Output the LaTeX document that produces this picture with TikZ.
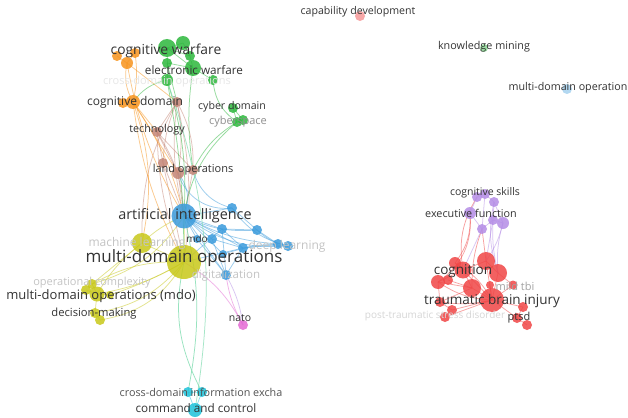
\documentclass[tikz,border=0pt]{standalone}
\usepackage{fontspec}
\setmainfont{Open Sans}
\definecolor{cY}{HTML}{C8C819}
\definecolor{cB}{HTML}{3A9BDC}
\definecolor{cG}{HTML}{2DB83D}
\definecolor{cO}{HTML}{F7941D}
\definecolor{cR}{HTML}{F04646}
\definecolor{cP}{HTML}{B48CE6}
\definecolor{cC}{HTML}{1EC3DA}
\definecolor{cBr}{HTML}{C48576}
\definecolor{cPk}{HTML}{E469D4}
\definecolor{cGc}{HTML}{7FDCB0}
\definecolor{lab}{HTML}{333333}
\definecolor{fad}{HTML}{C4C4C4}
\pgfdeclarelayer{backfill}
\pgfdeclarelayer{edges}
\pgfsetlayers{backfill,edges,main}
\begin{document}
\begin{tikzpicture}[x=1pt,y=-1pt,
  nd/.style={circle, inner sep=0pt, draw=none, fill opacity=0.85},
  ed/.style={line width=0.75pt, draw opacity=0.5},
  lb/.style={text=lab, inner sep=0pt},
  fl/.style={text=fad, inner sep=0pt}]
\begin{pgfonlayer}{backfill}
\fill[white] (0,0) rectangle (628,417);
\end{pgfonlayer}
\useasboundingbox (0,0) rectangle (628,417);
% ---------- nodes ----------
% yellow
\path
 (184,262) node[nd,fill=cY,minimum size=34pt] (y1) {}
 (142,243) node[nd,fill=cY,minimum size=20pt] (y2) {}
 (92,284) node[nd,fill=cY,minimum size=10pt] (y3) {}
 (86,290) node[nd,fill=cY,minimum size=10pt] (y4) {}
 (97,294) node[nd,fill=cY,minimum size=15pt] (y5) {}
 (110,295) node[nd,fill=cY,minimum size=8pt] (y6) {}
 (95,313) node[nd,fill=cY,minimum size=10pt] (y7) {}
 (100,320) node[nd,fill=cY,minimum size=10pt] (y8) {};
% blue
\path
 (184,216) node[nd,fill=cB,minimum size=25pt] (b1) {}
 (232,208) node[nd,fill=cB,minimum size=10pt] (b2) {}
 (222,229) node[nd,fill=cB,minimum size=10pt] (b3) {}
 (212,239) node[nd,fill=cB,minimum size=10pt] (b4) {}
 (197,239) node[nd,fill=cB,minimum size=8pt] (b5) {}
 (257,230) node[nd,fill=cB,minimum size=10pt] (b6) {}
 (243,248) node[nd,fill=cB,minimum size=10pt] (b7) {}
 (278,244) node[nd,fill=cB,minimum size=10pt] (b8) {}
 (288,246) node[nd,fill=cB,minimum size=10pt] (b9) {}
 (226,275) node[nd,fill=cB,minimum size=10pt] (b10) {}
 (223,254) node[nd,fill=cB,minimum size=8pt] (b11) {};
% pink, cyan
\path
 (243,325) node[nd,fill=cPk,minimum size=10pt] (p1) {}
 (188,392) node[nd,fill=cC,minimum size=10pt] (c1) {}
 (202,392) node[nd,fill=cC,minimum size=10pt] (c2) {}
 (195,410) node[nd,fill=cC,minimum size=14pt] (c3) {};
% brown
\path
 (177,102) node[nd,fill=cBr,minimum size=10pt] (r1) {}
 (157,132) node[nd,fill=cBr,minimum size=10pt] (r2) {}
 (163,163) node[nd,fill=cBr,minimum size=10pt] (r3) {}
 (178,173) node[nd,fill=cBr,minimum size=12pt] (r4) {}
 (193,170) node[nd,fill=cBr,minimum size=10pt] (r5) {};
% orange
\path
 (135,53) node[nd,fill=cO,minimum size=10pt] (o1) {}
 (117,56) node[nd,fill=cO,minimum size=10pt] (o2) {}
 (127,63) node[nd,fill=cO,minimum size=12pt] (o3) {}
 (133,102) node[nd,fill=cO,minimum size=14pt] (o4) {}
 (123,103) node[nd,fill=cO,minimum size=10pt] (o5) {};
% green
\path
 (167,48) node[nd,fill=cG,minimum size=18pt] (g1) {}
 (183,43) node[nd,fill=cG,minimum size=14pt] (g2) {}
 (190,56) node[nd,fill=cG,minimum size=10pt] (g3) {}
 (167,63) node[nd,fill=cG,minimum size=10pt] (g4) {}
 (193,68) node[nd,fill=cG,minimum size=16pt] (g6) {}
 (167,80) node[nd,fill=cG,minimum size=12pt] (g5) {}
 (213,80) node[nd,fill=cG,minimum size=10pt] (g7) {}
 (233,108) node[nd,fill=cG,minimum size=10pt] (g8) {}
 (237,122) node[nd,fill=cG,minimum size=10pt] (g9) {}
 (243,120) node[nd,fill=cG,minimum size=10pt] (g10) {};
% red
\path
 (455,263) node[nd,fill=cR,minimum size=12pt] (e2) {}
 (463,270) node[nd,fill=cR,minimum size=17pt] (e1) {}
 (486,261) node[nd,fill=cR,minimum size=18pt] (e3) {}
 (498,273) node[nd,fill=cR,minimum size=18pt] (e4) {}
 (438,282) node[nd,fill=cR,minimum size=14pt] (e5) {}
 (448,280) node[nd,fill=cR,minimum size=10pt] (e6) {}
 (472,288) node[nd,fill=cR,minimum size=18pt] (e7) {}
 (490,285) node[nd,fill=cR,minimum size=8pt] (e9) {}
 (492,300) node[nd,fill=cR,minimum size=24pt] (e8) {}
 (513,285) node[nd,fill=cR,minimum size=9pt] (e10) {}
 (440,302) node[nd,fill=cR,minimum size=10pt] (e11) {}
 (452,310) node[nd,fill=cR,minimum size=10pt] (e12) {}
 (445,317) node[nd,fill=cR,minimum size=10pt] (e13) {}
 (523,307) node[nd,fill=cR,minimum size=10pt] (e14) {}
 (517,318) node[nd,fill=cR,minimum size=10pt] (e15) {}
 (527,325) node[nd,fill=cR,minimum size=10pt] (e16) {};
% purple
\path
 (477,197) node[nd,fill=cP,minimum size=10pt] (u1) {}
 (485,194) node[nd,fill=cP,minimum size=10pt] (u2) {}
 (494,202) node[nd,fill=cP,minimum size=10pt] (u3) {}
 (470,213) node[nd,fill=cP,minimum size=12pt] (u4) {}
 (493,220) node[nd,fill=cP,minimum size=10pt] (u5) {}
 (503,223) node[nd,fill=cP,minimum size=12pt] (u6) {}
 (482,229) node[nd,fill=cP,minimum size=10pt] (u7) {};
% isolated
\path
 (360,16) node[nd,fill=cR!55,minimum size=10pt] (i1) {}
 (484,48) node[nd,fill=cG!55,minimum size=8pt] (i2) {}
 (567,89) node[nd,fill=cB!45,minimum size=10pt] (i3) {};
% ---------- edges ----------
\begin{pgfonlayer}{edges}
% yellow
\foreach \a/\b/\bb in {y1/y2/0,y1/y3/-15,y1/y5/10,y1/y6/5,y1/y7/20,y1/y8/25,y2/y5/-10,y2/y3/0,y3/y5/0,y5/y7/0,y4/y5/0,y5/y6/0,y1/b1/0,y2/b1/10,y7/y8/0,y3/b1/-20}
  \draw[ed,cY] (\a.center) to[bend left=\bb] (\b.center);
% blue
\foreach \a/\b/\bb in {b1/b2/0,b1/b3/0,b1/b4/0,b1/b5/0,b1/b6/-15,b1/b7/0,b1/b8/-12,b1/b9/-20,b1/b10/0,b1/b11/0,b2/b6/0,b3/b6/0,b4/b7/0,b3/b7/0,b6/b8/0,b7/b8/0,b7/b9/10,b6/b9/-15,b4/b10/0,b5/b10/0,b3/b10/0,b7/b10/0,b11/b9/10,b1/r4/-30,b2/r5/30,y1/b3/0,y1/b7/0,b2/b9/-20,b2/r4/40}
  \draw[ed,cB] (\a.center) to[bend left=\bb] (\b.center);
% brown
\foreach \a/\b/\bb in {r1/r2/0,r1/r4/10,r2/r3/0,r2/r4/0,r1/b1/-10,r2/b1/15,r2/y1/-10,r3/y1/0,r4/b1/0,r5/b1/0,r1/y1/10,r3/b1/0,r1/r3/-10,r2/r5/0,r1/r5/15,r1/y2/-15}
  \draw[ed,cBr] (\a.center) to[bend left=\bb] (\b.center);
% orange
\foreach \a/\b/\bb in {o1/o3/0,o2/o3/0,o3/o4/-20,o1/o4/10,o4/o5/0,o4/r2/0,o4/b1/10,o4/y1/-10,o4/y2/15,o3/r1/0,o3/b1/-10,o4/r4/0}
  \draw[ed,cO] (\a.center) to[bend left=\bb] (\b.center);
% green
\foreach \a/\b/\bb in {g1/g2/0,g1/g3/0,g1/g4/0,g2/g3/0,g3/g6/0,g4/g5/0,g6/g7/0,g4/g6/0,g1/g6/0,g5/o4/-20,g5/b1/10,g7/g9/-25,g9/r5/-15,g9/b1/-20,g8/g9/0,g8/g10/0,g9/g10/0,g4/r1/0,g5/y1/5,g6/r5/-8}
  \draw[ed,cG] (\a.center) to[bend left=\bb] (\b.center);
% cyan / light green
\foreach \a/\b/\bb in {c1/c2/0,c1/c3/0,c2/c3/0}
  \draw[ed,cC] (\a.center) to[bend left=\bb] (\b.center);
\draw[ed,cGc,draw opacity=0.8] (y1.center) to[bend left=-20] (c2.center);
\draw[ed,cGc,draw opacity=0.8] (b1.center) to[bend left=12] (c1.center);
\draw[ed,cGc,draw opacity=0.7] (g5.center) to[bend left=14] (c3.center);
% pink
\draw[ed,cPk] (p1.center) to[bend left=10] (b10.center);
\draw[ed,cP] (p1.center) to[bend left=-10] (b10.center);
\draw[ed,cPk] (p1.center) to[bend left=-15] (y1.center);
% red
\foreach \a/\b/\bb in {e1/e2/0,e1/e3/0,e1/e5/0,e1/e7/0,e1/e8/0,e3/e4/0,e3/e8/0,e4/e8/0,e5/e7/0,e6/e7/0,e7/e8/0,e8/e10/0,e8/e14/0,e8/e15/0,e14/e15/0,e15/e16/0,e11/e7/0,e12/e8/0,e13/e8/0,e11/e12/0,e5/e11/0,e9/e8/0,e4/e10/0,e2/e8/15,e5/e8/-15,e2/u4/-20,e1/u1/20,e5/u4/-30,e3/u7/0,e7/u7/10,e11/e8/-10}
  \draw[ed,cR] (\a.center) to[bend left=\bb] (\b.center);
% purple
\foreach \a/\b/\bb in {u1/u2/0,u2/u3/0,u1/u4/0,u4/u7/0,u5/u6/0,u3/u6/0,u3/u5/0,u7/u5/0,u2/u7/0,u5/e3/0,u6/e4/-10,u6/e3/10,u5/e4/-8,u7/e1/0,u3/e4/-15}
  \draw[ed,cP] (\a.center) to[bend left=\bb] (\b.center);
\end{pgfonlayer}
% ---------- faded labels ----------
\node[fl,font=\fontsize{11}{13}\selectfont,text=fad!40] (t-cdo) at (167,82) {cross-domain operations};
\node[fl,font=\fontsize{12}{14}\selectfont] (t-ml) at (137,243) {machine learning};
\node[fl,font=\fontsize{12}{14}\selectfont] (t-dl) at (287,246) {deep learning};
\node[fl,font=\fontsize{11.5}{13}\selectfont] (t-dig) at (226,276) {digitalization};
\node[fl,font=\fontsize{11}{13}\selectfont] (t-oc) at (92,283) {operational complexity};
\node[fl,font=\fontsize{11}{13}\selectfont,text=lab!55] (t-cs) at (238,122) {cyberspace};
\node[fl,font=\fontsize{11}{13}\selectfont,text=lab!45] (t-mtbi) at (515,286) {mild tbi};
\node[fl,font=\fontsize{10}{12}\selectfont,text=fad!70] (t-ptsd2) at (435,316) {post-traumatic stress disorder};
% ---------- labels ----------
\node[lb,font=\fontsize{10.6}{12}\selectfont] (t-cap) at (358,12) {capability development};
\node[lb,font=\fontsize{10.8}{12}\selectfont] (t-km) at (484,47) {knowledge mining};
\node[lb,font=\fontsize{10.7}{12}\selectfont] (t-mdo1) at (568,88) {multi-domain operation};
\node[lb,font=\fontsize{13.8}{15}\selectfont] (t-cw) at (166,51) {cognitive warfare};
\node[lb,font=\fontsize{11.7}{13}\selectfont] (t-ew) at (194,70) {electronic warfare};
\node[lb,font=\fontsize{12}{14}\selectfont] (t-cd) at (135,102) {cognitive domain};
\node[lb,font=\fontsize{10.6}{12}\selectfont] (t-cyd) at (232,107) {cyber domain};
\node[lb,font=\fontsize{10.8}{12}\selectfont] (t-tech) at (157,130) {technology};
\node[lb,font=\fontsize{11}{13}\selectfont] (t-lo) at (193,170) {land operations};
\node[lb,font=\fontsize{14.4}{16}\selectfont] (t-ai) at (185,216) {artificial intelligence};
\node[lb,font=\fontsize{10}{12}\selectfont] (t-mdo2) at (197,239) {mdo};
\node[lb,font=\fontsize{17}{20}\selectfont] (t-mdo) at (184,258) {multi-domain operations};
\node[lb,font=\fontsize{13}{15}\selectfont] (t-mdom) at (101,296) {multi-domain operations (mdo)};
\node[lb,font=\fontsize{11.2}{13}\selectfont] (t-dm) at (94,314) {decision-making};
\node[lb,font=\fontsize{10.5}{12}\selectfont] (t-nato) at (240,318) {nato};
\node[lb,font=\fontsize{10.8}{12}\selectfont,text=lab!85] (t-cdie) at (201,392) {cross-domain information excha};
\node[lb,font=\fontsize{11.7}{13}\selectfont] (t-c2) at (196,408) {command and control};
\node[lb,font=\fontsize{10.5}{12}\selectfont] (t-csk) at (485,193) {cognitive skills};
\node[lb,font=\fontsize{10.8}{12}\selectfont] (t-ef) at (471,213) {executive function};
\node[lb,font=\fontsize{13.5}{15}\selectfont] (t-cog) at (463,271) {cognition};
\node[lb,font=\fontsize{13.5}{15}\selectfont] (t-tbi) at (492,301) {traumatic brain injury};
\node[lb,font=\fontsize{11}{13}\selectfont] (t-ptsd) at (519,318) {ptsd};
\end{tikzpicture}
\end{document}
